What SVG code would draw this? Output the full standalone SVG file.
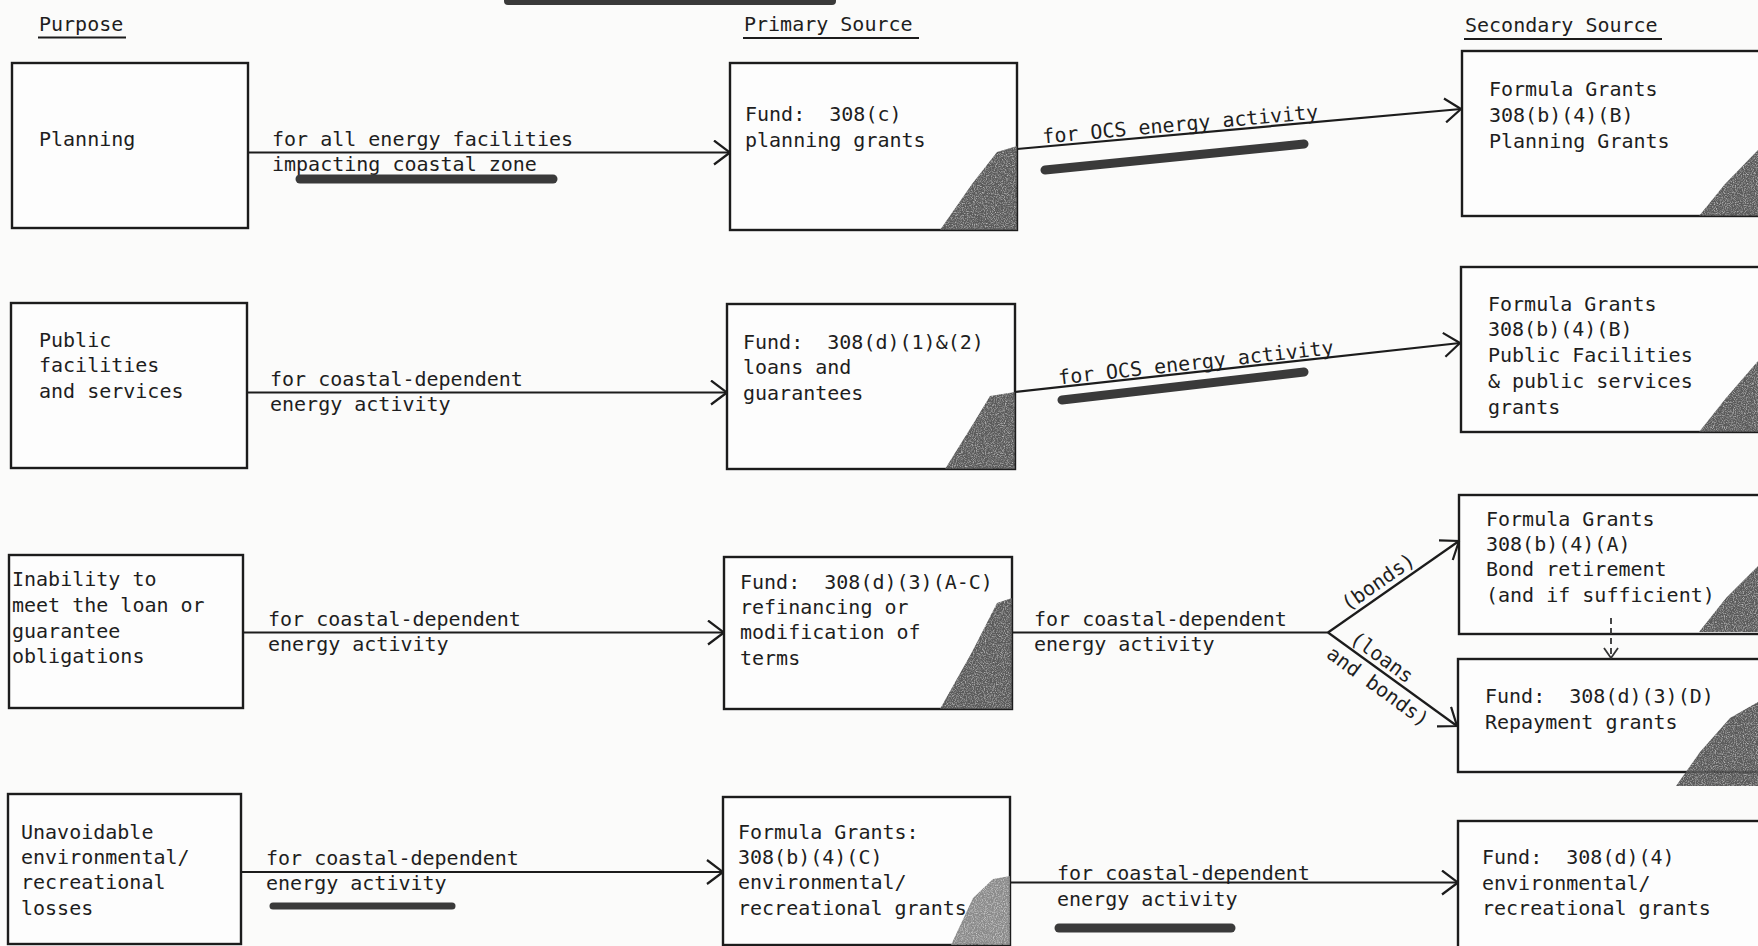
<svg xmlns="http://www.w3.org/2000/svg" width="1758" height="946" viewBox="0 0 1758 946">
<defs>
<style>
.bg{fill:#fbfbfa}
.box{fill:#fdfdfd;stroke:#1c1c1c;stroke-width:2.4}
.t{font-family:"DejaVu Sans Mono","Liberation Mono",monospace;font-size:20px;fill:#1e1e1e;white-space:pre}
.ln{fill:none;stroke:#1c1c1c;stroke-width:2.2}
.dash{fill:none;stroke:#333;stroke-width:1.8;stroke-dasharray:6 4}
.blob{fill:none;stroke:#3a3a3a;stroke-linecap:round}
.shade{fill:#5a5a5a;filter:url(#grain)}
.shadeL{fill:#8a8a8a;filter:url(#grain)}
.ul{stroke:#1c1c1c;stroke-width:2.2}
</style>
<filter id="grain" x="-5%" y="-5%" width="110%" height="110%">
<feTurbulence type="fractalNoise" baseFrequency="0.9" numOctaves="2" seed="4" result="n"/>
<feColorMatrix in="n" type="matrix" values="0 0 0 0 0  0 0 0 0 0  0 0 0 0 0  0 0 0 -1.4 1.6" result="a"/>
<feComposite in="SourceGraphic" in2="a" operator="in"/>
</filter>
<marker id="chev" viewBox="0 0 18 26" refX="17" refY="13" markerWidth="18" markerHeight="26" markerUnits="userSpaceOnUse" orient="auto">
<path d="M1,1 L17,13 L1,25" fill="none" stroke="#1c1c1c" stroke-width="2.2"/>
</marker>
<marker id="chevS" viewBox="0 0 12 16" refX="11" refY="8" markerWidth="12" markerHeight="16" markerUnits="userSpaceOnUse" orient="auto">
<path d="M1,1 L11,8 L1,15" fill="none" stroke="#333" stroke-width="1.8"/>
</marker>
</defs>
<rect class="bg" x="0" y="0" width="1758" height="946"/>
<line class="blob" x1="508" y1="1" x2="832" y2="1" stroke-width="8"/>

<g id="headers">
<text class="t" x="39" y="31">Purpose</text>
<line class="ul" x1="38" y1="37.5" x2="126" y2="37.5"/>
<text class="t" x="744" y="31">Primary Source</text>
<line class="ul" x1="743" y1="38" x2="919" y2="38"/>
<text class="t" x="1465" y="32">Secondary Source</text>
<line class="ul" x1="1464" y1="39" x2="1662" y2="39"/>
</g>

<!-- Row 1 -->
<g id="purpose-planning">
<rect class="box" x="12" y="63" width="236" height="165"/>
<text class="t" x="39" y="146">Planning</text>
</g>
<g id="primary-308c">
<rect class="box" x="730" y="63" width="287" height="167"/>
<polygon class="shade" points="940,230 972,184 997,152 1017,146 1017,230"/>
<text class="t" x="745" y="121">Fund:  308(c)</text>
<text class="t" x="745" y="147">planning grants</text>
</g>
<g id="secondary-308b4B-planning">
<rect class="box" x="1462" y="51" width="330" height="165"/>
<polygon class="shade" points="1699,216 1725,184 1758,150 1758,216"/>
<text class="t" x="1489" y="96">Formula Grants</text>
<text class="t" x="1489" y="122">308(b)(4)(B)</text>
<text class="t" x="1489" y="148">Planning Grants</text>
</g>

<!-- Row 2 -->
<g id="purpose-public">
<rect class="box" x="11" y="303" width="236" height="165"/>
<text class="t" x="39" y="347">Public</text>
<text class="t" x="39" y="372">facilities</text>
<text class="t" x="39" y="398">and services</text>
</g>
<g id="primary-308d12">
<rect class="box" x="727" y="304" width="288" height="165"/>
<polygon class="shade" points="945,469 973,424 990,396 1015,392 1015,469"/>
<text class="t" x="743" y="349">Fund:  308(d)(1)&amp;(2)</text>
<text class="t" x="743" y="374">loans and</text>
<text class="t" x="743" y="400">guarantees</text>
</g>
<g id="secondary-308b4B-public">
<rect class="box" x="1461" y="267" width="330" height="165"/>
<polygon class="shade" points="1699,432 1726,398 1758,361 1758,432"/>
<text class="t" x="1488" y="311">Formula Grants</text>
<text class="t" x="1488" y="336">308(b)(4)(B)</text>
<text class="t" x="1488" y="362">Public Facilities</text>
<text class="t" x="1488" y="388">&amp; public services</text>
<text class="t" x="1488" y="414">grants</text>
</g>

<!-- Row 3 -->
<g id="purpose-inability">
<rect class="box" x="9" y="555" width="234" height="153"/>
<text class="t" x="12" y="586">Inability to</text>
<text class="t" x="12" y="612">meet the loan or</text>
<text class="t" x="12" y="638">guarantee</text>
<text class="t" x="12" y="663">obligations</text>
</g>
<g id="primary-308d3AC">
<rect class="box" x="724" y="557" width="288" height="152"/>
<polygon class="shade" points="940,709 972,652 997,603 1012,598 1012,709"/>
<text class="t" x="740" y="589">Fund:  308(d)(3)(A-C)</text>
<text class="t" x="740" y="614">refinancing or</text>
<text class="t" x="740" y="639">modification of</text>
<text class="t" x="740" y="665">terms</text>
</g>
<g id="secondary-308b4A">
<rect class="box" x="1459" y="495" width="330" height="139"/>
<polygon class="shade" points="1699,632 1726,598 1758,566 1758,632"/>
<text class="t" x="1486" y="526">Formula Grants</text>
<text class="t" x="1486" y="551">308(b)(4)(A)</text>
<text class="t" x="1486" y="576">Bond retirement</text>
<text class="t" x="1486" y="602">(and if sufficient)</text>
</g>
<g id="secondary-308d3D">
<rect class="box" x="1458" y="659" width="330" height="113"/>
<polygon class="shade" points="1676,786 1700,752 1730,718 1758,702 1758,786"/>
<text class="t" x="1485" y="703">Fund:  308(d)(3)(D)</text>
<text class="t" x="1485" y="729">Repayment grants</text>
</g>

<!-- Row 4 -->
<g id="purpose-unavoidable">
<rect class="box" x="8" y="794" width="233" height="150"/>
<text class="t" x="21" y="839">Unavoidable</text>
<text class="t" x="21" y="864">environmental/</text>
<text class="t" x="21" y="889">recreational</text>
<text class="t" x="21" y="915">losses</text>
</g>
<g id="primary-308b4C">
<rect class="box" x="723" y="797" width="287" height="148"/>
<polygon class="shadeL" points="951,945 973,898 993,879 1010,876 1010,945"/>
<text class="t" x="738" y="839">Formula Grants:</text>
<text class="t" x="738" y="864">308(b)(4)(C)</text>
<text class="t" x="738" y="889">environmental/</text>
<text class="t" x="738" y="915">recreational grants</text>
</g>
<g id="secondary-308d4">
<rect class="box" x="1458" y="821" width="330" height="140"/>
<text class="t" x="1482" y="864">Fund:  308(d)(4)</text>
<text class="t" x="1482" y="890">environmental/</text>
<text class="t" x="1482" y="915">recreational grants</text>
</g>

<g id="connectors">
<!-- row 1 -->
<line class="ln" x1="248" y1="152.5" x2="730" y2="152.5" marker-end="url(#chev)"/>
<text class="t" x="272" y="146">for all energy facilities</text>
<text class="t" x="272" y="171">impacting coastal zone</text>
<line class="blob" x1="300" y1="179" x2="553" y2="179" stroke-width="9"/>
<line class="ln" x1="1017" y1="149" x2="1461" y2="109" marker-end="url(#chev)"/>
<text class="t" transform="translate(1043,143.5) rotate(-5.15)">for OCS energy activity</text>
<line class="blob" x1="1045" y1="170" x2="1304" y2="144" stroke-width="9"/>
<!-- row 2 -->
<line class="ln" x1="247" y1="392.5" x2="727" y2="392.5" marker-end="url(#chev)"/>
<text class="t" x="270" y="386">for coastal-dependent</text>
<text class="t" x="270" y="411">energy activity</text>
<line class="ln" x1="1015" y1="392" x2="1460" y2="343" marker-end="url(#chev)"/>
<text class="t" transform="translate(1059,384.5) rotate(-6.3)">for OCS energy activity</text>
<line class="blob" x1="1062" y1="400" x2="1304" y2="372" stroke-width="9"/>
<!-- row 3 -->
<line class="ln" x1="243" y1="632.5" x2="724" y2="632.5" marker-end="url(#chev)"/>
<text class="t" x="268" y="626">for coastal-dependent</text>
<text class="t" x="268" y="651">energy activity</text>
<line class="ln" x1="1012" y1="632.5" x2="1328" y2="632.5"/>
<text class="t" x="1034" y="626">for coastal-dependent</text>
<text class="t" x="1034" y="651">energy activity</text>
<line class="ln" x1="1328" y1="632.5" x2="1459" y2="541" marker-end="url(#chev)"/>
<line class="ln" x1="1328" y1="632.5" x2="1457" y2="726" marker-end="url(#chev)"/>
<g transform="translate(1328,632.5) rotate(-34.9)">
<text class="t" x="28" y="-6">(bonds)</text>
</g>
<g transform="translate(1328,632.5) rotate(36.1)">
<text class="t" x="22" y="-5">(loans</text>
<text class="t" x="12" y="21">and bonds)</text>
</g>
<line class="dash" x1="1611" y1="618" x2="1611" y2="658" marker-end="url(#chevS)"/>
<!-- row 4 -->
<line class="ln" x1="241" y1="872" x2="723" y2="872" marker-end="url(#chev)"/>
<text class="t" x="266" y="865">for coastal-dependent</text>
<text class="t" x="266" y="890">energy activity</text>
<line class="blob" x1="273" y1="906" x2="452" y2="906" stroke-width="7"/>
<line class="ln" x1="1010" y1="882.5" x2="1458" y2="882.5" marker-end="url(#chev)"/>
<text class="t" x="1057" y="880">for coastal-dependent</text>
<text class="t" x="1057" y="906">energy activity</text>
<line class="blob" x1="1059" y1="928" x2="1231" y2="928" stroke-width="9"/>
</g>
</svg>
